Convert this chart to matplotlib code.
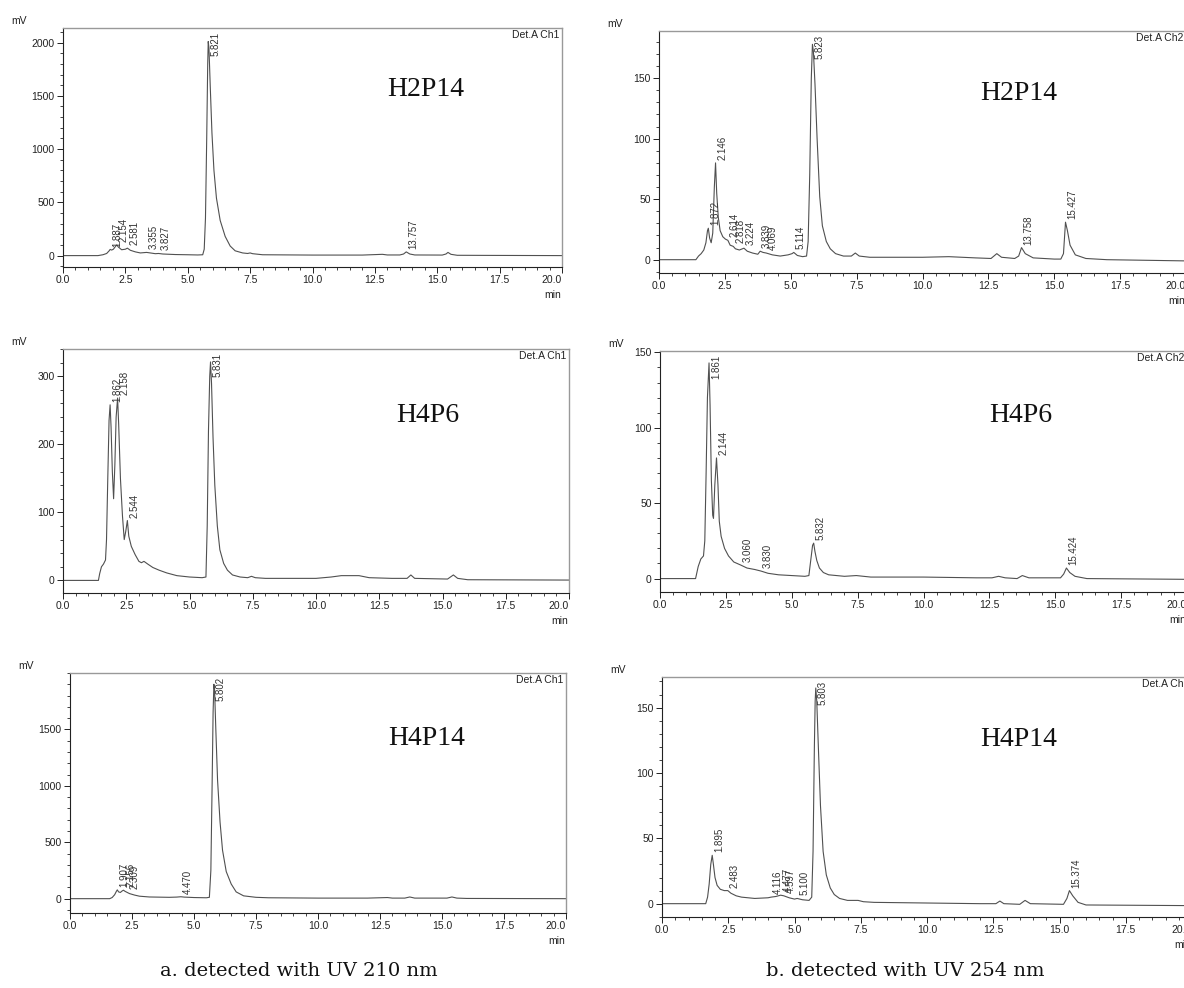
import numpy as np
import matplotlib
matplotlib.use("Agg")
import matplotlib.pyplot as plt
from matplotlib.ticker import MultipleLocator

plt.rcParams['font.family'] = ['Liberation Sans', 'DejaVu Sans']

# ---- traces (time in min, signal in mV) ----
h2p14_210_t = [0, 1.4, 1.6, 1.75, 1.85, 1.89, 1.95, 2.02, 2.1, 2.154, 2.22, 2.35, 2.5, 2.58, 2.7,
               2.9, 3.1, 3.35, 3.5, 3.7, 3.83, 4.0, 4.5, 5.0, 5.4, 5.6, 5.66, 5.71, 5.76, 5.8, 5.821,
               5.85, 5.9, 5.97, 6.05, 6.15, 6.3, 6.5, 6.7, 6.9, 7.2, 7.4, 7.5, 7.6, 8.0, 10.0, 12.0,
               12.8, 13.0, 13.5, 13.65, 13.757, 13.9, 14.1, 15.2, 15.35, 15.43, 15.55, 15.8, 17.0, 20.0]
h2p14_210_mv = [0, 0, 8, 20, 45, 58, 52, 60, 85, 100, 80, 55, 60, 70, 50,
                35, 25, 30, 25, 18, 20, 15, 10, 8, 6, 8, 60, 350, 1100, 1800, 2010,
                1950, 1600, 1150, 800, 540, 330, 180, 90, 45, 25, 20, 25, 18, 8, 5, 5,
                12, 6, 6, 15, 35, 15, 6, 5, 15, 30, 12, 3, 2, 0]
h2p14_210_peaks = ['1.887', '2.154', '2.581', '3.355', '3.827', '5.821', '13.757']

h2p14_254_t = [0, 1.4, 1.5, 1.6, 1.7, 1.78, 1.84, 1.872, 1.92, 1.98, 2.04, 2.1, 2.146, 2.19, 2.25,
               2.32, 2.42, 2.52, 2.614, 2.7, 2.818, 2.9, 3.05, 3.224, 3.35, 3.55, 3.75, 3.839, 3.95,
               4.069, 4.3, 4.6, 4.9, 5.05, 5.114, 5.25, 5.45, 5.6, 5.66, 5.72, 5.78, 5.823, 5.86,
               5.92, 6.0, 6.1, 6.2, 6.35, 6.5, 6.7, 7.0, 7.3, 7.45, 7.6, 8.0, 9.0, 10.0, 11.0, 12.0,
               12.6, 12.82, 13.0, 13.5, 13.65, 13.758, 13.9, 14.2, 15.0, 15.25, 15.35, 15.427, 15.5,
               15.6, 15.8, 16.2, 17.0, 20.0]
h2p14_254_mv = [0, 0, 3, 5, 8, 14, 24, 26, 18, 14, 22, 60, 80, 55, 35,
                24, 19, 17, 16, 12, 11, 9, 8, 9.5, 7, 5.5, 4.5, 7, 6,
                5.5, 4, 3, 4, 5, 6, 3.5, 2.5, 3, 15, 70, 150, 178, 172,
                145, 100, 52, 28, 15, 9, 5, 3, 3, 5.5, 3, 2, 2, 2, 2.5, 1.5,
                1, 5, 2, 1, 3, 10, 5, 1.5, 0.5, 0.5, 5, 31, 24,
                12, 4, 1, 0, -1]
h2p14_254_peaks = ['1.872', '2.146', '2.614', '2.818', '3.224', '3.839', '4.069', '5.114',
                   '5.823', '13.758', '15.427']

h4p6_210_t = [0, 1.4, 1.45, 1.52, 1.6, 1.68, 1.72, 1.77, 1.82, 1.862, 1.9, 1.95, 2.0, 2.05, 2.1,
              2.158, 2.2, 2.27, 2.35, 2.42, 2.48, 2.544, 2.6, 2.7, 2.85, 3.0, 3.1, 3.2, 3.35, 3.55,
              3.8, 4.1, 4.5, 5.0, 5.5, 5.65, 5.7, 5.75, 5.8, 5.831, 5.87, 5.93, 6.0, 6.1, 6.2, 6.35,
              6.5, 6.7, 7.0, 7.3, 7.45, 7.6, 8.0, 10.0, 10.6, 11.0, 11.7, 12.1, 13.0, 13.6, 13.75,
              13.9, 15.2, 15.43, 15.6, 16.0, 20.0]
h4p6_210_mv = [0, 0, 10, 20, 24, 30, 60, 150, 235, 258, 225, 160, 120, 170, 240,
               268, 230, 150, 95, 60, 72, 88, 65, 50, 38, 28, 26, 28, 24, 19,
               15, 11, 7, 5, 4, 5, 80, 220, 300, 321, 290, 210, 140, 80, 45, 25,
               15, 8, 5, 4, 6, 4, 3, 3, 5, 7, 7, 4, 3, 3, 8,
               3, 2, 8, 3, 1, 0.5]
h4p6_210_peaks = ['1.862', '2.158', '2.544', '5.831']

h4p6_254_t = [0, 1.35, 1.45, 1.55, 1.65, 1.7, 1.75, 1.8, 1.861, 1.9, 1.95, 2.0, 2.03, 2.08, 2.144,
              2.2, 2.25, 2.32, 2.45, 2.6, 2.8, 3.06, 3.3, 3.6, 3.83, 4.1, 4.5, 5.0, 5.5, 5.65, 5.72,
              5.79, 5.832, 5.88, 5.95, 6.05, 6.2, 6.4, 6.7, 7.0, 7.45, 8.0, 10.0, 12.0, 12.6, 12.85,
              13.1, 13.55, 13.75, 14.0, 15.2, 15.32, 15.424, 15.55, 15.75, 16.2, 20.0]
h4p6_254_mv = [0, 0, 8, 13, 15, 25, 70, 120, 143, 115, 65, 42, 40, 62, 80,
               62, 38, 28, 20, 15, 11, 9, 7, 6, 5, 3.5, 2.5, 2, 1.5, 2, 12,
               22, 23.5, 18, 12, 7, 4, 2.5, 2, 1.5, 2, 1, 1, 0.5, 0.5, 1.5,
               0.5, 0, 2, 0.5, 0.5, 3, 7, 4, 1.5, 0, -0.5]
h4p6_254_peaks = ['1.861', '2.144', '3.060', '3.830', '5.832', '15.424']

h4p14_210_t = [0, 1.6, 1.7, 1.8, 1.87, 1.907, 1.96, 2.03, 2.1, 2.156, 2.22, 2.309, 2.4, 2.6, 2.8,
               3.2, 4.0, 4.3, 4.47, 4.6, 5.0, 5.5, 5.62, 5.68, 5.73, 5.77, 5.802, 5.83, 5.88, 5.95,
               6.05, 6.15, 6.3, 6.5, 6.7, 7.0, 7.5, 8.0, 10.0, 12.0, 12.8, 13.0, 13.5, 13.7, 13.9,
               15.2, 15.4, 15.6, 16.0, 20.0]
h4p14_210_mv = [0, 0, 10, 35, 65, 78, 60, 55, 68, 75, 65, 55, 45, 32, 22,
                15, 12, 14, 17, 14, 10, 8, 12, 250, 1000, 1650, 1900, 1850, 1500, 1050,
                680, 430, 240, 130, 60, 25, 12, 8, 5, 5, 10, 5, 5, 15, 5,
                5, 15, 5, 2, 0]
h4p14_210_peaks = ['1.907', '2.156', '2.309', '4.470', '5.802']

h4p14_254_t = [0, 1.65, 1.72, 1.78, 1.84, 1.895, 1.94, 2.0, 2.08, 2.2, 2.35, 2.483, 2.6, 2.8, 3.0,
               3.5, 4.0, 4.116, 4.3, 4.477, 4.597, 4.8, 5.0, 5.1, 5.3, 5.55, 5.65, 5.7, 5.75, 5.78,
               5.803, 5.84, 5.9, 5.98, 6.08, 6.2, 6.35, 6.5, 6.7, 7.0, 7.4, 7.6, 8.0, 10.0, 12.0,
               12.6, 12.75, 12.9, 13.5, 13.7, 13.9, 15.15, 15.28, 15.374, 15.5, 15.7, 16.0, 20.0]
h4p14_254_mv = [0, 0, 5, 15, 30, 37, 30, 20, 14, 11, 10, 10, 8, 6, 5,
                4, 4.5, 5, 5.5, 6.5, 6, 4.5, 3.5, 4, 3, 2.5, 5, 40, 120, 155,
                165, 155, 120, 75, 40, 22, 12, 7, 4, 2.5, 2.5, 1.5, 1, 0.5, 0,
                0, 2, 0, -0.5, 2.5, 0, -0.5, 4, 10, 6, 1, -1, -1.5]
h4p14_254_peaks = ['1.895', '2.483', '4.116', '4.477', '4.597', '5.100', '5.803', '15.374']

samples = ['H2P14', 'H4P6', 'H4P14']
captions = ['a. detected with UV 210 nm', 'b. detected with UV 254 nm']

W, H = 1184, 988
fig = plt.figure(figsize=(W / 100, H / 100), dpi=100)


def px_rect(left, top, right, bottom):
    return [left / W, 1 - bottom / H, (right - left) / W, (bottom - top) / H]


def panel(rect, t, mv, ylim, ystep, peaks, channel, sample, sample_xy):
    ax = fig.add_axes(px_rect(*rect))
    ax.plot(t, mv, color='#505050', lw=0.8)
    ax.set_xlim(0, 20)
    ax.set_ylim(*ylim)

    xt = np.arange(0, 20.01, 2.5)
    ax.set_xticks(xt)
    ax.set_xticklabels([f'{v:.1f}' for v in xt])
    ax.get_xticklabels()[-1].set_ha('right')
    ax.xaxis.set_minor_locator(MultipleLocator(0.5))
    yt = np.arange(0, ylim[1], ystep)
    ax.set_yticks(yt)
    ax.set_yticklabels([f'{v:.0f}' for v in yt])
    ax.yaxis.set_minor_locator(MultipleLocator(ystep / 5))
    ax.tick_params(which='major', direction='out', length=4, width=0.7, labelsize=7.5,
                   colors='#222', pad=2)
    ax.tick_params(which='minor', direction='out', length=2.5, width=0.6, colors='#222')
    for s in ['left', 'bottom']:
        ax.spines[s].set_color('#222')
        ax.spines[s].set_linewidth(0.8)
    for s in ['top', 'right']:
        ax.spines[s].set_color('#999')
        ax.spines[s].set_linewidth(1.0)

    ax.annotate('mV', xy=(0, 1), xycoords='axes fraction', xytext=(-44, 7),
                textcoords='offset pixels', ha='center', va='center', fontsize=7.5, color='#222')
    ax.annotate('min', xy=(1, 0), xycoords='axes fraction', xytext=(-1, -28),
                textcoords='offset pixels', ha='right', va='center', fontsize=7.5, color='#222')
    ax.annotate(channel, xy=(1, 1), xycoords='axes fraction', xytext=(-3, -7),
                textcoords='offset pixels', ha='right', va='center', fontsize=7.5, color='#222')

    # retention time labels
    top_px = ax.transAxes.transform((0, 1))[1]
    for lab in peaks:
        rt = float(lab)
        y = np.interp(rt, t, mv)
        y_px = ax.transData.transform((rt, y))[1]
        if y_px + 3 + 5.0 * len(lab) > top_px - 3:
            ax.annotate(lab, xy=(rt, 1), xycoords=('data', 'axes fraction'), xytext=(7, -4),
                        textcoords='offset pixels', rotation=90, ha='center', va='top',
                        fontsize=7, color='#333')
        else:
            ax.annotate(lab, xy=(rt, y), xytext=(7, 3), textcoords='offset pixels',
                        rotation=90, ha='center', va='bottom', fontsize=7, color='#333')

    fig.text(sample_xy[0] / W, 1 - sample_xy[1] / H, sample, family='Liberation Serif',
             fontsize=20, ha='center', va='center', color='#111')
    return ax


panel((63, 28, 562, 267), h2p14_210_t, h2p14_210_mv, (-107, 2137), 500, h2p14_210_peaks,
      'Det.A Ch1', samples[0], (426, 90))
panel((659, 31, 1186, 273), h2p14_254_t, h2p14_254_mv, (-11, 189), 50, h2p14_254_peaks,
      'Det.A Ch2', samples[0], (1019, 93))
panel((63, 349, 569, 593), h4p6_210_t, h4p6_210_mv, (-18.5, 340), 100, h4p6_210_peaks,
      'Det.A Ch1', samples[1], (428, 415))
panel((660, 351, 1187, 592), h4p6_254_t, h4p6_254_mv, (-8.9, 150.9), 50, h4p6_254_peaks,
      'Det.A Ch2', samples[1], (1021, 415))
panel((70, 673, 566, 913), h4p14_210_t, h4p14_210_mv, (-127, 2000), 500, h4p14_210_peaks,
      'Det.A Ch1', samples[2], (427, 738))
panel((662, 677, 1192, 917), h4p14_254_t, h4p14_254_mv, (-10.2, 173.4), 50, h4p14_254_peaks,
      'Det.A Ch2', samples[2], (1019, 739))

fig.text(299 / W, 1 - 971 / H, captions[0], family='DejaVu Serif', fontsize=14,
         ha='center', va='center', color='#111')
fig.text(905 / W, 1 - 971 / H, captions[1], family='DejaVu Serif', fontsize=14,
         ha='center', va='center', color='#111')

fig.savefig('out.png', dpi=100)
